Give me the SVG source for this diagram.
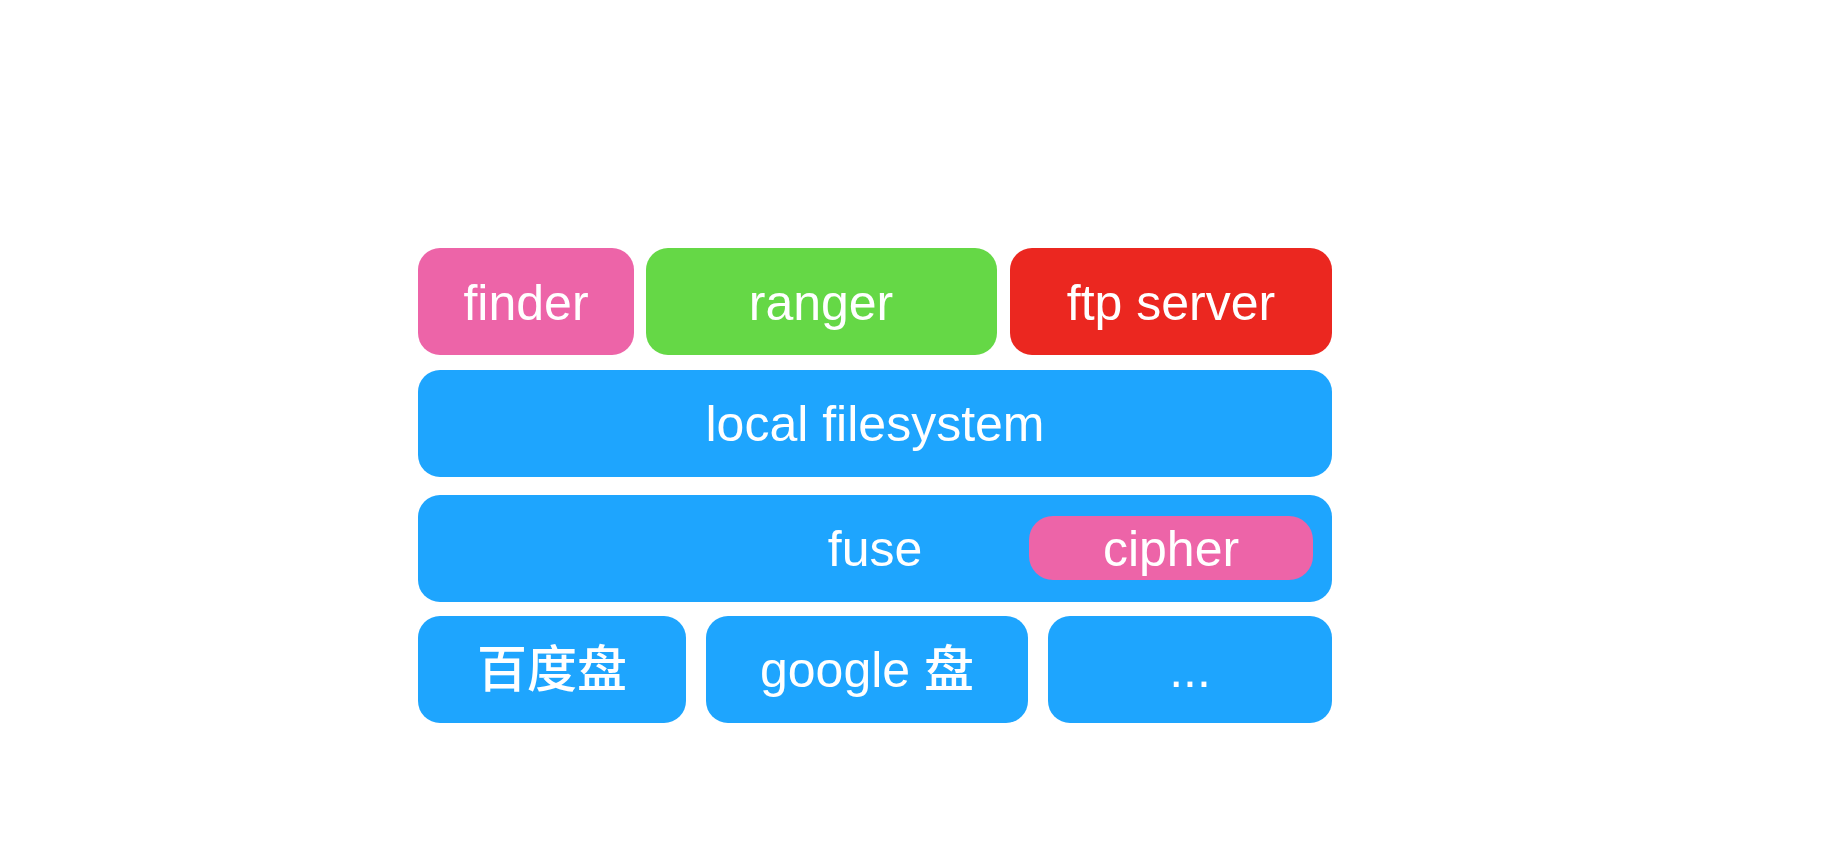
<svg xmlns="http://www.w3.org/2000/svg" width="1836" height="862" viewBox="0 0 1836 862">
<style>
.t{font-family:"Liberation Sans","Noto Sans CJK SC",Arial,sans-serif;font-size:50px;fill:#ffffff;text-anchor:middle}
.cjk{font-weight:500}
.blue{fill:#1EA5FE}
.pink{fill:#ED64A8}
.green{fill:#65D846}
.red{fill:#EB2720}
</style>
<rect width="1836" height="862" fill="#ffffff"/>
<g id="finder"><rect class="pink" x="418" y="248" width="216" height="107" rx="22"/><text class="t" x="526" y="320">finder</text></g>
<g id="ranger"><rect class="green" x="646" y="248" width="351" height="107" rx="22"/><text class="t" x="821" y="320">ranger</text></g>
<g id="ftp-server"><rect class="red" x="1010" y="248" width="322" height="107" rx="22"/><text class="t" x="1171" y="320">ftp server</text></g>
<g id="local-filesystem"><rect class="blue" x="418" y="370" width="914" height="107" rx="22"/><text class="t" x="875" y="441">local filesystem</text></g>
<g id="fuse"><rect class="blue" x="418" y="495" width="914" height="107" rx="22"/><text class="t" x="875" y="566">fuse</text></g>
<g id="cipher"><rect class="pink" x="1029" y="516" width="284" height="64" rx="24"/><text class="t" x="1171" y="566">cipher</text></g>
<g id="baidu"><rect class="blue" x="418" y="616" width="268" height="107" rx="22"/><text class="t cjk" x="552" y="687">百度盘</text></g>
<g id="google"><rect class="blue" x="706" y="616" width="322" height="107" rx="22"/><text class="t" x="867" y="687">google <tspan class="cjk">盘</tspan></text></g>
<g id="more"><rect class="blue" x="1048" y="616" width="284" height="107" rx="22"/><text class="t" x="1190" y="687">...</text></g>
<g id="connectors"></g>
</svg>
